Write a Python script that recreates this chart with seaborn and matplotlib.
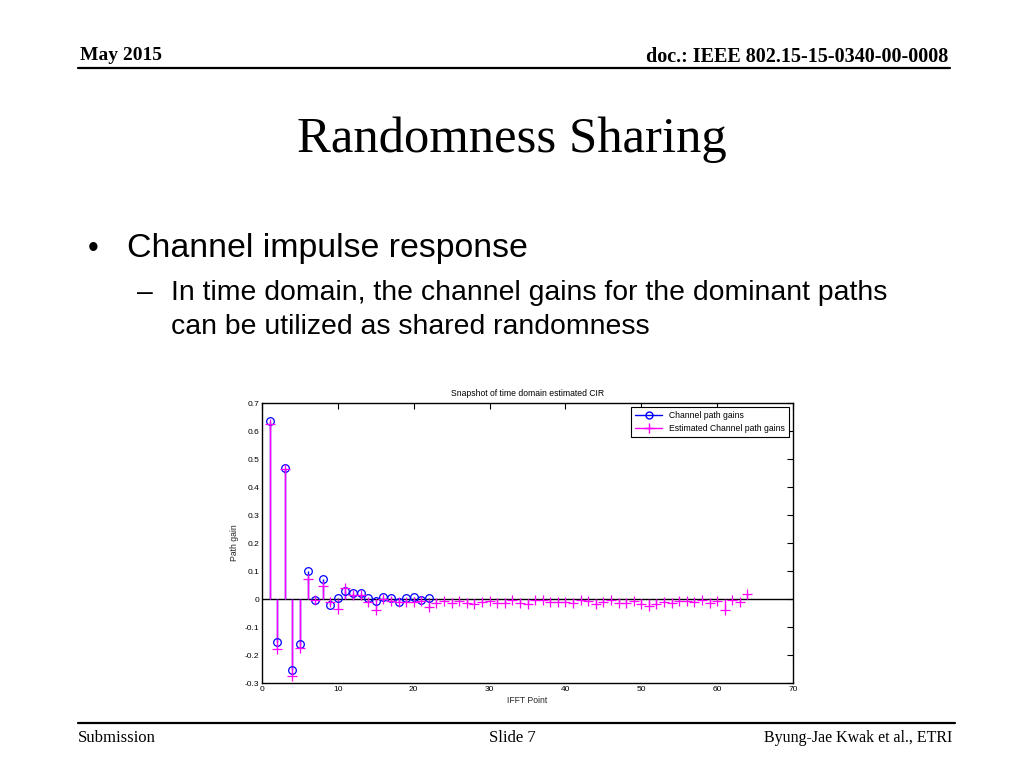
import matplotlib
matplotlib.use("Agg")
import matplotlib.pyplot as plt
from matplotlib.lines import Line2D
from matplotlib.legend_handler import HandlerLine2D
import seaborn as sns
import numpy as np

# channel path gains (IFFT points 1..22)
canal = [0.635, -0.155, 0.468, -0.253, -0.160, 0.100, -0.005, 0.070, -0.020, 0.002,
         0.030, 0.022, 0.022, 0.002, -0.006, 0.007, 0.005, -0.011, 0.003, 0.007,
         -0.004, 0.002]
pontos_canal = list(range(1, len(canal) + 1))

# estimated channel path gains (IFFT points 1..64)
estimado = [0.625, -0.178, 0.465, -0.275, -0.175, 0.070, -0.005, 0.045, -0.010, -0.037,
            0.040, 0.015, 0.015, -0.012, -0.040, 0.000, -0.006, -0.010, -0.012, -0.012,
            -0.008, -0.028, -0.015, -0.007, -0.015, -0.006, -0.013, -0.019, -0.011, -0.006,
            -0.013, -0.013, -0.004, -0.013, -0.019, -0.004, -0.004, -0.011, -0.011, -0.011,
            -0.014, -0.005, -0.006, -0.018, -0.010, -0.002, -0.014, -0.014, -0.008, -0.017,
            -0.024, -0.018, -0.012, -0.013, -0.007, -0.008, -0.010, -0.005, -0.016, -0.008,
            -0.040, -0.004, -0.011, 0.017]
pontos_estimado = list(range(1, len(estimado) + 1))

xticks = list(range(0, 71, 10))
yticks = [round(v, 1) for v in np.arange(-0.3, 0.71, 0.1)]

azul = '#0000FF'
magenta = '#FF00FF'


class MarcadorNoFim(HandlerLine2D):
    # MATLAB style legend: marker at the right end of the line
    def get_xdata(self, legend, xdescent, ydescent, width, height, fontsize):
        xdata = [-xdescent, -xdescent + width]
        return xdata, [-xdescent + width]


sns.set_style("white")
plt.rcParams['font.family'] = ['Liberation Sans', 'DejaVu Sans']
plt.rcParams['text.color'] = 'black'

fig = plt.figure(figsize=(10.24, 7.68), dpi=100)

# slide frame
serif = ['Liberation Serif', 'DejaVu Serif']
fig.text(80 / 1024, 1 - 55 / 768, 'May 2015', family=serif, fontweight='bold',
         fontsize=14, va='center', ha='left')
fig.text(948 / 1024, 1 - 57 / 768, 'doc.: IEEE 802.15-15-0340-00-0008', family=serif,
         fontweight='bold', fontsize=14.5, va='center', ha='right')
fig.add_artist(Line2D([78 / 1024, 950 / 1024], [1 - 68 / 768, 1 - 68 / 768],
                      color='black', lw=1.6, transform=fig.transFigure))
fig.text(512 / 1024, 1 - 140 / 768, 'Randomness Sharing', family=serif,
         fontsize=36.5, va='center', ha='center')

fig.text(88 / 1024, 1 - 249 / 768, '•', fontsize=22, va='center', ha='left')
fig.text(127 / 1024, 1 - 249 / 768, 'Channel impulse response', fontsize=24.4,
         va='center', ha='left')
fig.text(137 / 1024, 1 - 293 / 768, '–', fontsize=20.4, va='center', ha='left')
fig.text(171 / 1024, 1 - 293 / 768,
         'In time domain, the channel gains for the dominant paths', fontsize=20.4,
         va='center', ha='left')
fig.text(171 / 1024, 1 - 327 / 768, 'can be utilized as shared randomness',
         fontsize=20.4, va='center', ha='left')

fig.add_artist(Line2D([78 / 1024, 955 / 1024], [1 - 723 / 768, 1 - 723 / 768],
                      color='black', lw=1.6, transform=fig.transFigure))
fig.text(78 / 1024, 1 - 738 / 768, 'Submission', family=serif, fontsize=12,
         va='center', ha='left')
fig.text(512 / 1024, 1 - 738 / 768, 'Slide 7', family=serif, fontsize=12,
         va='center', ha='center')
fig.text(952 / 1024, 1 - 738 / 768, 'Byung-Jae Kwak et al., ETRI', family=serif,
         fontsize=11.5, va='center', ha='right')

# chart
ax = fig.add_axes([262 / 1024, 1 - 683 / 768, 531 / 1024, 280 / 768])

ax.axhline(0, color='black', lw=1, zorder=1)
ax.vlines(pontos_canal, 0, canal, color=azul, lw=1, zorder=2)
ax.vlines(pontos_estimado, 0, estimado, color=magenta, lw=1, zorder=3)
sns.lineplot(x=pontos_canal, y=canal, ax=ax, linestyle='', marker='o', markersize=5.5,
             markerfacecolor='none', markeredgecolor=azul, markeredgewidth=0.9,
             color=azul, zorder=4)
sns.lineplot(x=pontos_estimado, y=estimado, ax=ax, linestyle='', marker='+',
             markersize=6.5, markeredgewidth=0.9, markeredgecolor=magenta,
             color=magenta, zorder=5)

ax.set_xlim(0, 70)
ax.set_ylim(-0.3, 0.7)
ax.set_xticks(xticks)
ax.set_yticks(yticks)
ax.set_yticklabels([('%g' % v) for v in yticks])
ax.tick_params(direction='in', length=4, width=0.8, labelsize=6, top=True, right=True,
               pad=2, colors='black')
for lado in ax.spines.values():
    lado.set_visible(True)
    lado.set_color('black')
    lado.set_linewidth(1)

ax.set_title('Snapshot of time domain estimated CIR', fontsize=6.2, pad=5)
ax.set_xlabel('IFFT Point', fontsize=6.2, labelpad=2)
ax.set_ylabel('Path gain', fontsize=6.2, labelpad=4)

alcas = [Line2D([], [], color=azul, lw=1, marker='o', markersize=5,
                markerfacecolor='none', markeredgecolor=azul),
         Line2D([], [], color=magenta, lw=1, marker='+', markersize=6.5)]
leg = ax.legend(alcas, ['Channel path gains', 'Estimated Channel path gains'],
                loc='upper right', fontsize=6.2, frameon=True, fancybox=False,
                edgecolor='black', framealpha=1, borderaxespad=0.5, handlelength=3.2,
                handletextpad=0.8, borderpad=0.4, labelspacing=0.5,
                handler_map={Line2D: MarcadorNoFim()})
leg.get_frame().set_linewidth(0.8)

fig.savefig('out.png', dpi=100, facecolor='white')
